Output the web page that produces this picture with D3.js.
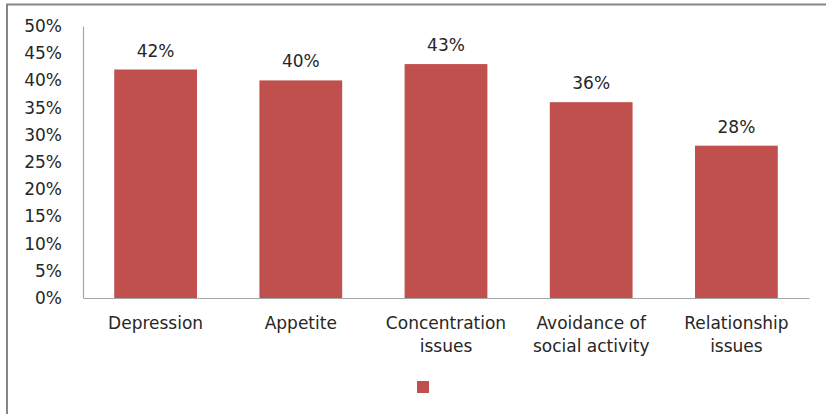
<!DOCTYPE html>
<html>
<head>
<meta charset="utf-8">
<script src="https://cdn.jsdelivr.net/npm/d3@7"></script>
<style>
  html, body { margin: 0; padding: 0; background: #fff; }
  svg { display: block; }
</style>
</head>
<body>
<script>
// Symptom categories (two-line labels) and their shares
const categories = [
  ["Depression"],
  ["Appetite"],
  ["Concentration", "issues"],
  ["Avoidance of", "social activity"],
  ["Relationship", "issues"]
];
const values = [0.42, 0.40, 0.43, 0.36, 0.28];
const yTicks = [0, 0.05, 0.10, 0.15, 0.20, 0.25, 0.30, 0.35, 0.40, 0.45, 0.50];

const W = 826, H = 414;
const margin = { left: 83, right: 17, top: 26, bottom: 116 };
const barColor = "#C0504D";
const font = "'DejaVu Sans', sans-serif";
const fontSize = 17;

const svg = d3.select("body").append("svg")
  .attr("width", W).attr("height", H);

// Chart frame
svg.append("path")
  .attr("d", `M7,${H + 2} V4.5 H${W + 2}`)
  .attr("fill", "none")
  .attr("stroke", "#868686")
  .attr("stroke-width", 2);

const keys = categories.map(c => c.join(" "));
const x = d3.scaleBand()
  .domain(keys)
  .range([margin.left, W - margin.right])
  .paddingInner(0.43)
  .paddingOuter(0.215);

const y = d3.scaleLinear()
  .domain([0, 0.5])
  .range([H - margin.bottom, margin.top]);

// Y axis: labels only, plus the axis line
const yAxis = svg.append("g")
  .attr("transform", `translate(${margin.left},0)`)
  .call(d3.axisLeft(y).tickValues(yTicks).tickFormat(d3.format(".0%")).tickSize(0).tickPadding(21));
yAxis.select(".domain").attr("stroke", "#A6A6A6").attr("stroke-width", 1.2);
yAxis.selectAll("text")
  .attr("font-family", font).attr("font-size", fontSize).attr("fill", "#262626");

// X axis line
const xAxis = svg.append("g")
  .attr("transform", `translate(0,${H - margin.bottom})`)
  .call(d3.axisBottom(x).tickSize(0).tickFormat(""));
xAxis.select(".domain").attr("stroke", "#A6A6A6").attr("stroke-width", 1.2);

// Bars
svg.append("g").selectAll("rect")
  .data(values)
  .join("rect")
  .attr("x", (d, i) => x(keys[i]))
  .attr("width", x.bandwidth())
  .attr("y", d => y(d))
  .attr("height", d => y(0) - y(d))
  .attr("fill", barColor);

// Value labels
svg.append("g").selectAll("text")
  .data(values)
  .join("text")
  .attr("x", (d, i) => x(keys[i]) + x.bandwidth() / 2)
  .attr("y", d => y(d) - 13)
  .attr("text-anchor", "middle")
  .attr("font-family", font).attr("font-size", fontSize).attr("fill", "#262626")
  .text(d => d3.format(".0%")(d));

// Category labels
const cat = svg.append("g").selectAll("text")
  .data(categories)
  .join("text")
  .attr("x", (d, i) => x(keys[i]) + x.bandwidth() / 2)
  .attr("y", 329)
  .attr("text-anchor", "middle")
  .attr("font-family", font).attr("font-size", fontSize).attr("fill", "#262626");
cat.selectAll("tspan")
  .data(d => d)
  .join("tspan")
  .attr("x", function () { return this.parentNode.getAttribute("x"); })
  .attr("dy", (d, j) => j === 0 ? 0 : 23)
  .text(d => d);

// Legend marker (series without a name)
svg.append("rect")
  .attr("x", 417).attr("y", 381)
  .attr("width", 12).attr("height", 12)
  .attr("fill", barColor);
</script>
</body>
</html>
